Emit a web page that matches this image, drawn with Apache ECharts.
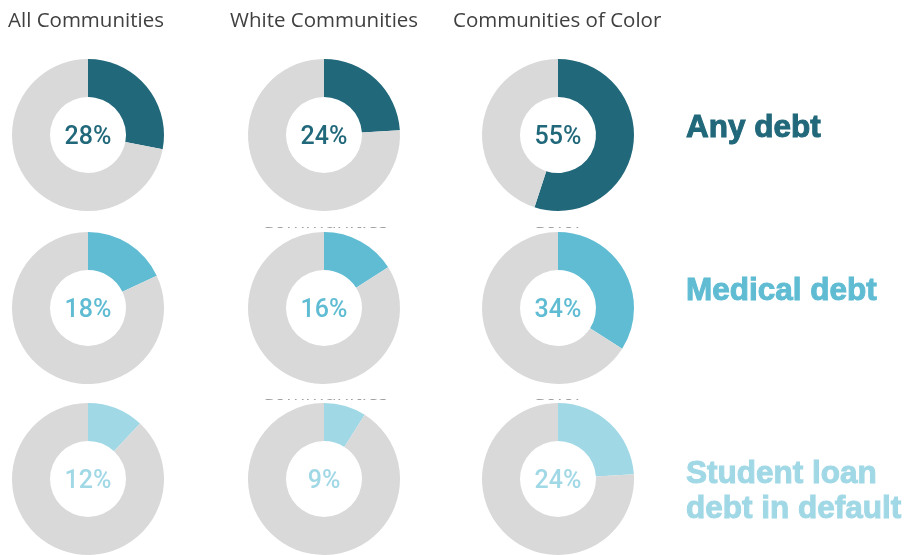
<!DOCTYPE html>
<html>
<head>
<meta charset="utf-8">
<script src="https://cdn.jsdelivr.net/npm/echarts@6/dist/echarts.min.js"></script>
<style>
  html, body { margin: 0; padding: 0; background: #fff; }
  #chart { width: 909px; height: 555px; }
</style>
</head>
<body>
<div id="chart"></div>
<script>
// Share of residents with debt in collections, by community type
const groups = ['All Communities', 'White Communities', 'Communities of Color'];
const debtTypes = ['Any debt', 'Medical debt', 'Student loan\ndebt in default'];
const anyDebt = [28, 24, 55];
const medicalDebt = [18, 16, 34];
const studentLoanDefault = [12, 9, 24];

const rows = [anyDebt, medicalDebt, studentLoanDefault];
const rowColors = ['#21687A', '#5FBCD3', '#A1D8E6'];
const restColor = '#D9D9D9';

const colX = [88, 324, 558];
const rowY = [135, 308, 479];

const series = [];
rows.forEach((vals, r) => {
  vals.forEach((v, c) => {
    series.push({
      type: 'pie',
      z: 2,
      center: [colX[c], rowY[r]],
      radius: [38, 76],
      startAngle: 90,
      clockwise: true,
      silent: true,
      animation: false,
      labelLine: { show: false },
      data: [
        {
          value: v,
          name: debtTypes[r],
          itemStyle: { color: rowColors[r] },
          label: {
            show: true,
            position: 'center',
            formatter: '{c}%',
            fontFamily: 'Roboto',
            fontWeight: 500,
            fontSize: 25,
            offset: [0, 3],
            color: rowColors[r]
          }
        },
        {
          value: 100 - v,
          name: 'rest',
          itemStyle: { color: restColor },
          label: { show: false }
        }
      ]
    });
  });
});

// Column headings
const titles = groups.map((g, c) => ({
  text: g,
  left: [8, 230, 453][c],
  top: 11,
  padding: 0,
  textStyle: { fontFamily: 'Open Sans', fontWeight: 'normal', fontSize: 20.5, color: '#404040' }
}));

// Row headings on the right
const rowLabelTop = [111, 274, 457];
debtTypes.forEach((t, r) => {
  titles.push({
    text: t,
    left: 686,
    top: rowLabelTop[r],
    padding: 0,
    textStyle: {
      fontFamily: 'Liberation Sans',
      fontWeight: 'bold',
      fontSize: 31.5,
      lineHeight: 35,
      color: rowColors[r],
      textBorderColor: rowColors[r],
      textBorderWidth: 1
    }
  });
});

// Repeated headings peeking out from beneath the lower rows (mostly hidden)
const hiddenHeads = [];
[227, 399].forEach(edge => {
  [['Communities', 261], ['Color', 532]].forEach(([txt, x]) => {
    hiddenHeads.push({
      type: 'text',
      z: 0,
      x: x,
      y: edge + 1.5 - 16.8,
      style: { text: txt, font: '20.5px "Open Sans"', fill: '#404040', verticalAlign: 'top' }
    });
  });
  hiddenHeads.push({
    type: 'rect',
    z: 1,
    shape: { x: 240, y: edge - 22, width: 380, height: 22.5 },
    style: { fill: '#ffffff' }
  });
});

const chart = echarts.init(document.getElementById('chart'), null, { renderer: 'canvas' });
chart.setOption({
  animation: false,
  title: titles,
  graphic: { elements: hiddenHeads },
  series: series
});
</script>
</body>
</html>
